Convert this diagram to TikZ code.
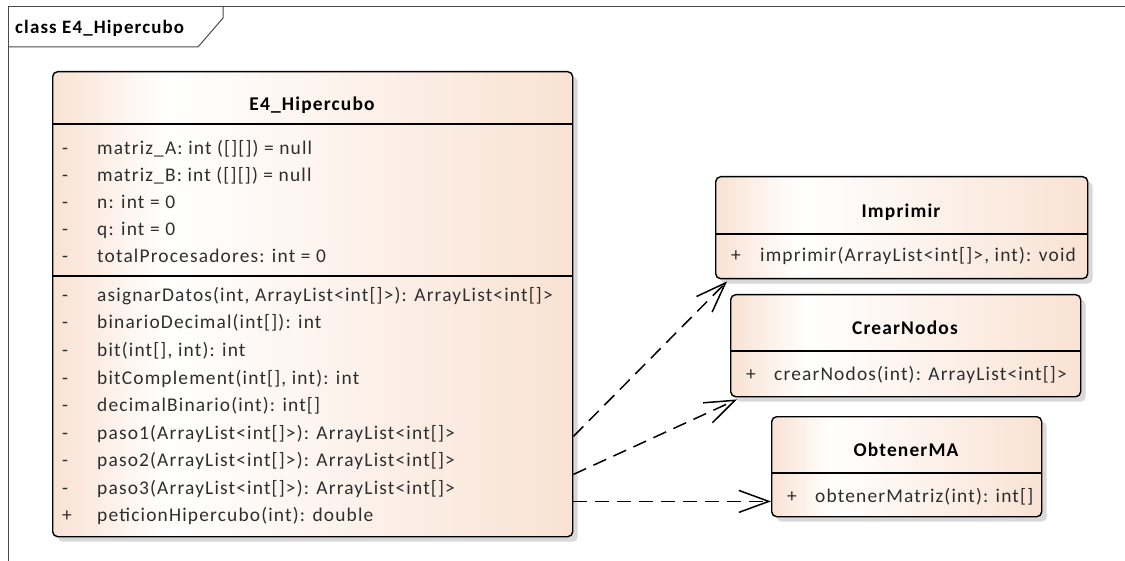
\documentclass[tikz,border=0pt]{standalone}
\usepackage{fontspec}
\setmainfont{Carlito}[LetterSpace=6]
\usetikzlibrary{arrows.meta,shadows}
\definecolor{eaPeach}{HTML}{F9E2D3}
\definecolor{eaInk}{HTML}{2E2E2E}
\definecolor{eaShadow}{HTML}{D9D9D9}
\definecolor{eaFrame}{HTML}{4A4A4A}
\pgfdeclarehorizontalshading{eafill}{100bp}{color(0bp)=(eaPeach); color(25bp)=(eaPeach); color(36bp)=(white); color(75bp)=(eaPeach); color(100bp)=(eaPeach)}

\begin{document}
\begin{tikzpicture}[
  x=1bp,
  y=-1bp,
  frameline/.style={draw=eaFrame, line width=1bp},
  classbox/.style={
    draw=black,
    line width=1.4bp,
    rounded corners=5bp,
    shade,
    shading=eafill,
    drop shadow={shadow xshift=5bp, shadow yshift=-5bp, fill=eaShadow, opacity=1},
    anchor=north west,
    inner sep=0pt
  },
  divider/.style={draw=black, line width=1.4bp},
  classname/.style={
    font=\fontsize{19.5}{22}\selectfont\bfseries,
    text=black,
    inner sep=0pt,
    text height=13bp,
    text depth=4bp
  },
  member/.style={
    font=\fontsize{19.5}{22}\selectfont,
    text=eaInk,
    anchor=west,
    inner sep=0pt,
    text height=13bp,
    text depth=4bp
  },
  dep/.style={
    -{Straight Barb[length=30bp,width=22bp]},
    line width=1.5bp,
    dash pattern=on 14bp off 8bp
  }
]

\useasboundingbox (0,0) rectangle (1125,561);

% diagram frame
\draw[frameline] (8,561) -- (8,7) -- (1125,7);
\draw[frameline] (8,47) -- (198,47) -- (223,18) -- (223,7);
\node[member, text=black, font=\fontsize{19}{22}\selectfont\bfseries] (framelabel) at (15,29) {class E4\_Hipercubo};

% main class
\node[classbox, minimum width=520bp, minimum height=465bp] (hiper) at (52,71) {};
\draw[divider] ([yshift=-53bp]hiper.north west) -- ([yshift=-53bp]hiper.north east);
\draw[divider] ([yshift=-205bp]hiper.north west) -- ([yshift=-205bp]hiper.north east);
\node[classname] (hipertitle) at (312,106) {E4\_Hipercubo};

\foreach \vis/\txt [count=\k from 0] in {
    -/{matriz\_A: int ([][]) = null},
    -/{matriz\_B: int ([][]) = null},
    -/{n: int = 0},
    -/{q: int = 0},
    -/{totalProcesadores: int = 0}}
{
  \node[member] (attrvis\k) at (62,150+27*\k) {\vis};
  \node[member] (attr\k) at (97,150+27*\k) {\txt};
}

\foreach \vis/\txt [count=\k from 0] in {
    -/{asignarDatos(int, ArrayList<int[]>): ArrayList<int[]>},
    -/{binarioDecimal(int[]): int},
    -/{bit(int[], int): int},
    -/{bitComplement(int[], int): int},
    -/{decimalBinario(int): int[]},
    -/{paso1(ArrayList<int[]>): ArrayList<int[]>},
    -/{paso2(ArrayList<int[]>): ArrayList<int[]>},
    -/{paso3(ArrayList<int[]>): ArrayList<int[]>},
    +/{peticionHipercubo(int): double}}
{
  \node[member] (opvis\k) at (62,297+27.5*\k) {\vis};
  \node[member] (op\k) at (97,297+27.5*\k) {\txt};
}

% used classes
\node[classbox, minimum width=372bp, minimum height=102bp] (imprimir) at (715,176) {};
\draw[divider] ([yshift=-58bp]imprimir.north west) -- ([yshift=-58bp]imprimir.north east);
\node[classname] (imprimirtitle) at (901,213) {Imprimir};
\node[member] (imprimirvis) at (731,257) {+};
\node[member] (imprimirop) at (760,257) {imprimir(ArrayList<int[]>, int): void};

\node[classbox, minimum width=350bp, minimum height=102bp] (crear) at (730,294) {};
\draw[divider] ([yshift=-57bp]crear.north west) -- ([yshift=-57bp]crear.north east);
\node[classname] (creartitle) at (905,330) {CrearNodos};
\node[member] (crearvis) at (746,376) {+};
\node[member] (crearop) at (774,376) {crearNodos(int): ArrayList<int[]>};

\node[classbox, minimum width=270bp, minimum height=100bp] (obtener) at (771,416) {};
\draw[divider] ([yshift=-57bp]obtener.north west) -- ([yshift=-57bp]obtener.north east);
\node[classname] (obtenertitle) at (906,452) {ObtenerMA};
\node[member] (obtenervis) at (787,498) {+};
\node[member] (obtenerop) at (815,498) {obtenerMatriz(int): int[]};

% dependencies
\coordinate (from1) at ([yshift=101bp]hiper.south east);
\coordinate (from2) at ([yshift=63bp]hiper.south east);
\coordinate (from3) at ([yshift=36bp]hiper.south east);

\draw[dep] (from1) -- ([xshift=12bp,yshift=-2bp]imprimir.south west);
\draw[dep] (from2) -- ([xshift=7bp,yshift=-2bp]crear.south west);
\draw[dep] (from3) -- (obtener.west |- from3);
\end{tikzpicture}
\end{document}
